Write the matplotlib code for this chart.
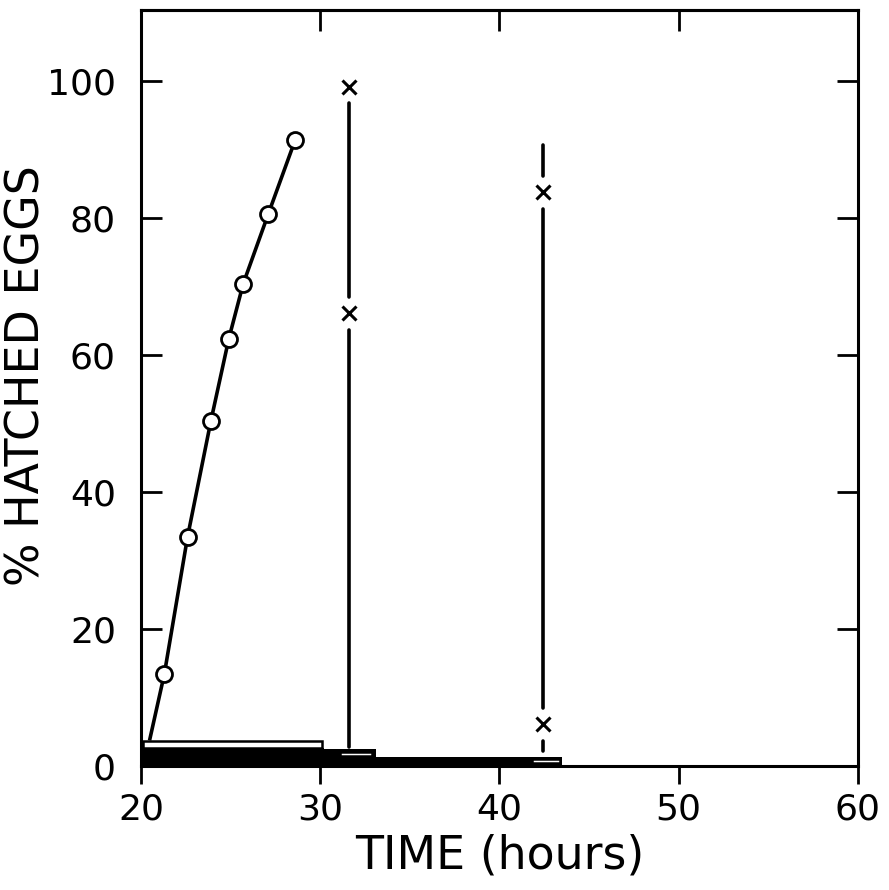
import numpy as np
import matplotlib
matplotlib.use("Agg")
import matplotlib.pyplot as plt

# hatching curve (open circles)
time_h = [21.3, 22.6, 23.9, 24.9, 25.7, 27.1, 28.6]
hatched = [13.4, 33.5, 50.4, 62.4, 70.4, 80.6, 91.4]
curve_start = (20.5, 4.0)

# vertical ranges with x markers
vl_x = [31.6, 42.4]
vl_lo = [2.8, 2.2]
vl_hi = [98.0, 90.7]
vl_marks = [[66.1, 99.2], [83.8, 6.1]]

# bars along the time axis
black_start = [20.0, 30.2, 33.1]
black_end = [30.2, 33.1, 43.5]
black_top = [2.6, 2.5, 1.35]
white_start = [20.1, 31.1, 41.8]
white_end = [30.1, 32.9, 43.4]
white_lo = [2.6, 1.5, 0.4]
white_hi = [3.6, 2.1, 1.0]

fig = plt.figure(figsize=(8.89, 8.90), dpi=100)
ax = fig.add_axes([0.1586, 0.1393, 0.8065, 0.8495])

lw = 2.6
ax.plot([curve_start[0]] + time_h, [curve_start[1]] + hatched, color="black", lw=lw, zorder=3)
ax.plot(time_h, hatched, "o", ms=11.5, mfc="white", mec="black", mew=2.0, zorder=4)

for x, lo, hi, marks in zip(vl_x, vl_lo, vl_hi, vl_marks):
    pts = sorted(marks)
    gap = 2.4
    edges = [lo]
    for m in pts:
        edges += [m - gap, m + gap]
    edges.append(hi)
    for a, b in zip(edges[::2], edges[1::2]):
        if b > a:
            ax.plot([x, x], [a, b], color="black", lw=lw, solid_capstyle="round", zorder=3)
    ax.plot([x] * len(marks), marks, "x", ms=10.5, mew=2.2, color="black", zorder=4)

ax.bar(black_start, black_top, width=np.subtract(black_end, black_start), align="edge",
       color="black", edgecolor="black", lw=0, zorder=2)
ax.bar(white_start, np.subtract(white_hi, white_lo), width=np.subtract(white_end, white_start),
       bottom=white_lo, align="edge", color="white", edgecolor="black", lw=1.8, zorder=2.5)

ax.set_xlim(20, 60)
ax.set_ylim(0, 110.4)
ax.set_xticks([20, 30, 40, 50, 60])
ax.set_yticks([0, 20, 40, 60, 80, 100])

for s in ax.spines.values():
    s.set_linewidth(2.2)

ax.tick_params(axis="x", which="both", direction="out", length=13, width=2.0,
               labelsize=26, pad=6, top=False)
ax.tick_params(axis="y", which="both", direction="in", length=15, width=2.0,
               labelsize=26, pad=18, right=True)
sec = ax.secondary_xaxis("top")
sec.set_xticks([30, 40, 50])
sec.tick_params(direction="in", length=15, width=2.0, labelsize=0)
sec.set_xticklabels([])
sec.spines["top"].set_linewidth(2.2)

ax.set_xlabel("TIME (hours)", fontsize=33)
ax.xaxis.set_label_coords(0.5, -0.089)
ax.set_ylabel("% HATCHED EGGS", fontsize=33)
ax.yaxis.set_label_coords(-0.127, 0.516)

fig.savefig("out.png", dpi=100, facecolor="white")
